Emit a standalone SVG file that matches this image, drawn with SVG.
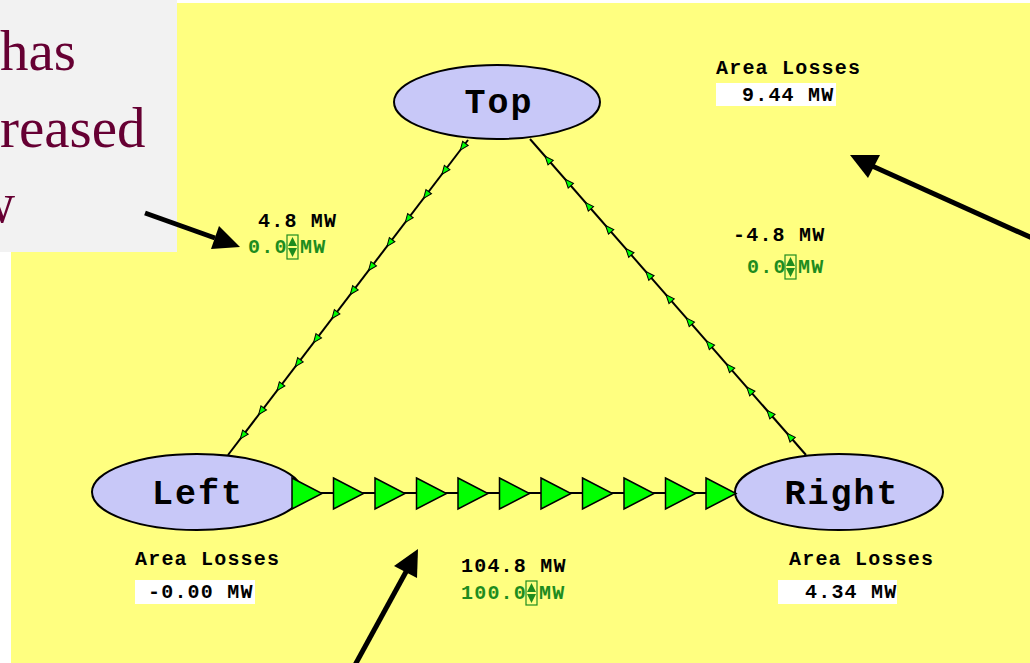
<svg xmlns="http://www.w3.org/2000/svg" xmlns:xlink="http://www.w3.org/1999/xlink" width="1030" height="663" viewBox="0 0 1030 663">
<defs>
<style>
.node{fill:#c8c8f8;stroke:#000;stroke-width:2}
.nl{font-family:"Liberation Mono","Courier New",monospace;font-weight:bold;font-size:35px;letter-spacing:2px;fill:#000;text-anchor:middle}
.lbl{font-family:"Liberation Mono","Courier New",monospace;font-weight:bold;font-size:20px;letter-spacing:1.2px;fill:#000}
.grn{fill:#1e8c1e}
.ln{stroke:#000;stroke-width:2;fill:none}
.big{fill:#00ff00;stroke:#000;stroke-width:1.5}
.sm{fill:#00ff00;stroke:#000;stroke-width:1}
.ann{stroke:#000;stroke-width:5;fill:none}
.spin{fill:none;stroke:#1e8c1e;stroke-width:1.2}
.slide{font-family:"Liberation Serif","Times New Roman",serif;font-size:57px;fill:#660033}
</style>
<path id="bt" class="big" d="M0,-15.5 L30,0 L0,15.5 Z"/>
<path id="st" class="sm" d="M4.5,0 L-4,-3.5 L-4,3.5 Z"/>
<g id="spinner">
<rect class="spin" x="0" y="0" width="11" height="24"/>
<path d="M5.5,2 L10,11 L1,11 Z M5.5,22 L10,13 L1,13 Z" fill="#1e8c1e"/>
</g>
<marker id="ah" markerWidth="8" markerHeight="8" refX="7" refY="4" orient="auto" markerUnits="userSpaceOnUse" viewBox="0 0 8 8">
<path d="M0,0 L8,4 L0,8 Z" fill="#000"/>
</marker>
</defs>
<rect x="0" y="0" width="1030" height="663" fill="#fff"/>
<rect x="11" y="3" width="1019" height="660" fill="#ffff80"/>
<g id="slide-box">
<rect x="0" y="0" width="177" height="252" fill="#f2f2f2"/>
<text class="slide" x="0" y="70">has</text>
<text class="slide" x="0" y="147">reased</text>
<text class="slide" x="-26" y="222">w</text>
</g>
<g id="node-top">
<ellipse class="node" cx="497" cy="102" rx="103" ry="37"/>
<text class="nl" x="499" y="113">Top</text>
</g>
<g id="node-left">
<ellipse class="node" cx="197" cy="492" rx="105" ry="38"/>
<text class="nl" x="198" y="504">Left</text>
</g>
<g id="node-right">
<ellipse class="node" cx="839" cy="492" rx="104" ry="38"/>
<text class="nl" x="842" y="504">Right</text>
</g>
<g id="connectors">
<line class="ln" x1="468" y1="140" x2="228" y2="455"/>
<line class="ln" x1="530" y1="139" x2="806" y2="455"/>
<line class="ln" x1="300" y1="493" x2="736" y2="493"/>
<g id="tl-arrows">
<use xlink:href="#st" transform="translate(463,146.6) rotate(127.3)"/>
<use xlink:href="#st" transform="translate(444.7,170.7) rotate(127.3)"/>
<use xlink:href="#st" transform="translate(426.3,194.8) rotate(127.3)"/>
<use xlink:href="#st" transform="translate(408,218.8) rotate(127.3)"/>
<use xlink:href="#st" transform="translate(389.7,242.8) rotate(127.3)"/>
<use xlink:href="#st" transform="translate(371.3,266.9) rotate(127.3)"/>
<use xlink:href="#st" transform="translate(353,290.9) rotate(127.3)"/>
<use xlink:href="#st" transform="translate(334.7,314.9) rotate(127.3)"/>
<use xlink:href="#st" transform="translate(316.3,339) rotate(127.3)"/>
<use xlink:href="#st" transform="translate(298,363) rotate(127.3)"/>
<use xlink:href="#st" transform="translate(279.7,387.1) rotate(127.3)"/>
<use xlink:href="#st" transform="translate(261.3,411.1) rotate(127.3)"/>
<use xlink:href="#st" transform="translate(243,435.3) rotate(127.3)"/>
</g>
<g id="tr-arrows">
<use xlink:href="#st" transform="translate(548,159.6) rotate(-131.1)"/>
<use xlink:href="#st" transform="translate(568.2,182.7) rotate(-131.1)"/>
<use xlink:href="#st" transform="translate(588.3,205.8) rotate(-131.1)"/>
<use xlink:href="#st" transform="translate(608.5,228.9) rotate(-131.1)"/>
<use xlink:href="#st" transform="translate(628.7,252) rotate(-131.1)"/>
<use xlink:href="#st" transform="translate(648.8,275) rotate(-131.1)"/>
<use xlink:href="#st" transform="translate(669,298.2) rotate(-131.1)"/>
<use xlink:href="#st" transform="translate(689.2,321.3) rotate(-131.1)"/>
<use xlink:href="#st" transform="translate(709.3,344.3) rotate(-131.1)"/>
<use xlink:href="#st" transform="translate(729.5,367.4) rotate(-131.1)"/>
<use xlink:href="#st" transform="translate(749.7,390.5) rotate(-131.1)"/>
<use xlink:href="#st" transform="translate(769.8,413.6) rotate(-131.1)"/>
<use xlink:href="#st" transform="translate(790,436.7) rotate(-131.1)"/>
</g>
<g id="bottom-arrows">
<use xlink:href="#bt" x="292" y="493.5"/>
<use xlink:href="#bt" x="333.5" y="493.5"/>
<use xlink:href="#bt" x="375" y="493.5"/>
<use xlink:href="#bt" x="416.5" y="493.5"/>
<use xlink:href="#bt" x="458" y="493.5"/>
<use xlink:href="#bt" x="499.5" y="493.5"/>
<use xlink:href="#bt" x="541" y="493.5"/>
<use xlink:href="#bt" x="582.5" y="493.5"/>
<use xlink:href="#bt" x="624" y="493.5"/>
<use xlink:href="#bt" x="665.5" y="493.5"/>
<use xlink:href="#bt" x="706" y="493.5"/>
</g>
</g>
<g id="flow-labels">
<text class="lbl" x="258" y="227">4.8 MW</text>
<text class="lbl grn" x="248" y="253">0.0</text>
<use xlink:href="#spinner" x="287" y="235"/>
<text class="lbl grn" x="300" y="253">MW</text>
<text class="lbl" x="733" y="241">-4.8 MW</text>
<text class="lbl grn" x="747" y="273">0.0</text>
<use xlink:href="#spinner" x="785" y="255"/>
<text class="lbl grn" x="798" y="273">MW</text>
<text class="lbl" x="461" y="572">104.8 MW</text>
<text class="lbl grn" x="461" y="599">100.0</text>
<use xlink:href="#spinner" x="526" y="581"/>
<text class="lbl grn" x="539" y="599">MW</text>
</g>
<g id="losses">
<text class="lbl" x="716" y="74">Area Losses</text>
<rect x="716" y="83" width="120" height="23" fill="#fff"/>
<text class="lbl" x="742" y="101">9.44 MW</text>
<text class="lbl" x="135" y="565">Area Losses</text>
<rect x="135" y="580" width="120" height="24" fill="#fff"/>
<text class="lbl" x="148" y="598">-0.00 MW</text>
<text class="lbl" x="789" y="565">Area Losses</text>
<rect x="778" y="580" width="119" height="24" fill="#fff"/>
<text class="lbl" x="805" y="598">4.34 MW</text>
</g>
<g id="annotations">
<line class="ann" x1="145" y1="213" x2="215" y2="238"/>
<path d="M240,247 L211,249 L219,226 Z" fill="#000"/>
<line class="ann" x1="1032" y1="238" x2="870" y2="165"/>
<path d="M850,155 L880,155 L868,178 Z" fill="#000"/>
<line class="ann" x1="355" y1="665" x2="407" y2="570"/>
<path d="M418,549 L417,578 L394,566 Z" fill="#000"/>
</g>
</svg>
